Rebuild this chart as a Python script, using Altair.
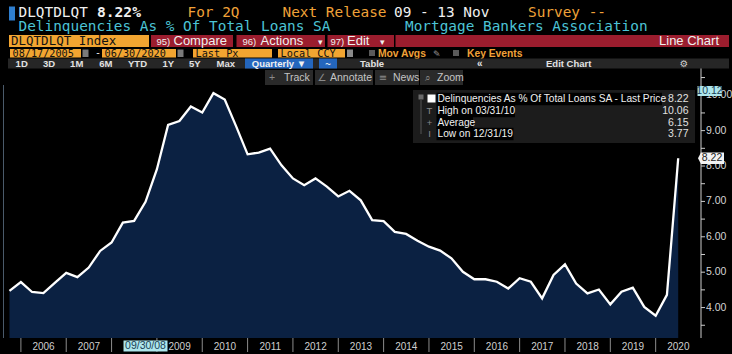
import altair as alt
import pandas as pd

# ---------------- data ----------------
quarter_ends = [
    "2005-09-30", "2005-12-31",
    "2006-03-31", "2006-06-30", "2006-09-30", "2006-12-31",
    "2007-03-31", "2007-06-30", "2007-09-30", "2007-12-31",
    "2008-03-31", "2008-06-30", "2008-09-30", "2008-12-31",
    "2009-03-31", "2009-06-30", "2009-09-30", "2009-12-31",
    "2010-03-31", "2010-06-30", "2010-09-30", "2010-12-31",
    "2011-03-31", "2011-06-30", "2011-09-30", "2011-12-31",
    "2012-03-31", "2012-06-30", "2012-09-30", "2012-12-31",
    "2013-03-31", "2013-06-30", "2013-09-30", "2013-12-31",
    "2014-03-31", "2014-06-30", "2014-09-30", "2014-12-31",
    "2015-03-31", "2015-06-30", "2015-09-30", "2015-12-31",
    "2016-03-31", "2016-06-30", "2016-09-30", "2016-12-31",
    "2017-03-31", "2017-06-30", "2017-09-30", "2017-12-31",
    "2018-03-31", "2018-06-30", "2018-09-30", "2018-12-31",
    "2019-03-31", "2019-06-30", "2019-09-30", "2019-12-31",
    "2020-03-31", "2020-06-30",
]
delinquency_pct = [
    4.47, 4.72,
    4.44, 4.41, 4.70, 4.98,
    4.86, 5.13, 5.60, 5.84,
    6.40, 6.45, 6.99, 7.91,
    9.16, 9.27, 9.68, 9.51,
    10.06, 9.88, 9.12, 8.33,
    8.38, 8.49, 8.02, 7.65,
    7.46, 7.65, 7.42, 7.14,
    7.30, 7.03, 6.47, 6.44,
    6.14, 6.08, 5.89, 5.72,
    5.61, 5.39, 5.01, 4.80,
    4.80, 4.73, 4.54, 4.83,
    4.73, 4.26, 4.92, 5.22,
    4.68, 4.40, 4.51, 4.09,
    4.45, 4.56, 4.02, 3.77,
    4.36, 8.22,
]
range_start = "2005-08-17"
range_end_year = 2021.0
year_labels = ["2006", "2007", "2008", "2009", "2010", "2011", "2012", "2013",
               "2014", "2015", "2016", "2017", "2018", "2019", "2020"]
year_starts = [2006, 2007, 2008, 2009, 2010, 2011, 2012, 2013,
               2014, 2015, 2016, 2017, 2018, 2019, 2020]
grid_years = [2006, 2008, 2010, 2012, 2014, 2016, 2018, 2020]
grid_values = [4, 5, 6, 7, 8, 9, 10]
y_labels = [4, 5, 6, 7, 8, 9, 10]
y_ticks = [3.5, 4, 4.5, 5, 5.5, 6, 6.5, 7, 7.5, 8, 8.5, 9, 9.5, 10, 10.5]
y_min, y_max = 3.14, 10.77
last_price = 8.22
cursor_value = 10.12
cursor_date = "2008-09-30"
cursor_label = "09/30/08"
legend_labels = ["Delinquencies As % Of Total Loans SA - Last Price",
                 "High on 03/31/10", "Average", "Low on 12/31/19"]
legend_values = ["8.22", "10.06", "6.15", "3.77"]


def dec_year(s):
    t = pd.Timestamp(s)
    n = 366 if t.is_leap_year else 365
    return t.year + t.dayofyear / n


df = pd.DataFrame({"t": [dec_year(d) for d in quarter_ends], "v": delinquency_pct})
cursor_t = dec_year(cursor_date)

# ---------------- layout / style ----------------
OX, OY = 4, 68          # plot origin on the page
W, H = 697, 270
MONO = "DejaVu Sans Mono"
SANS = "Liberation Sans"
WHITE = "#f0f0f0"
ORANGE = "#f0a238"
AMBER = "#f2a531"
CYAN = "#4cc4d6"
RED = "#9b1d2e"
BLUE = "#2466bd"
NAVY = "#0b2142"
GRID = "#a8a8a8"
AXIS = "#cdcdcd"
DARK = "#111111"

xs = alt.Scale(domain=[dec_year(range_start), range_end_year], nice=False, zero=False)
ys = alt.Scale(domain=[y_min, y_max], nice=False, zero=False)

ONE = pd.DataFrame({"k": [0]})


def box(x0, y0, x1, y1, color):
    return alt.Chart(ONE).mark_rect(color=color).encode(
        x=alt.value(x0 - OX), x2=alt.value(x1 - OX),
        y=alt.value(y0 - OY), y2=alt.value(y1 - OY))


def label(x, y, s, color, size=11, font=SANS, weight="normal", align="left"):
    return alt.Chart(ONE).mark_text(
        text=s, color=color, fontSize=size, font=font, fontWeight=weight,
        align=align, baseline="middle").encode(
        x=alt.value(x - OX), y=alt.value(y - OY))


layers = []

# ---------------- plot ----------------
# the area layer carries the dotted grid of both axes
area = alt.Chart(df).mark_area(color=NAVY).encode(
    x=alt.X("t:Q", scale=xs, axis=alt.Axis(
        values=grid_years, labels=False, ticks=False, domain=True,
        domainColor="#b8b8b8", grid=True, gridColor=GRID, gridDash=[1.5, 2],
        gridWidth=1, gridOpacity=1, title=None, zindex=1)),
    y=alt.Y("v:Q", scale=ys, axis=alt.Axis(
        orient="right", values=grid_values, labels=False, ticks=False,
        domain=False, grid=True, gridColor=GRID, gridDash=[1.5, 2], gridWidth=1,
        gridOpacity=1, title=None, zindex=1)),
    y2=alt.datum(y_min),
)
layers.append(area)

# thin frame line on the left edge
layers.append(alt.Chart(ONE).mark_rule(color="#4a5a6a", strokeWidth=1).encode(
    x=alt.value(-0.5), y=alt.value(17), y2=alt.value(H)))

line = alt.Chart(df).mark_line(color="white", strokeWidth=2.3).encode(
    x=alt.X("t:Q", scale=xs, axis=None),
    y=alt.Y("v:Q", scale=ys, axis=None))
layers.append(line)

# year dividers below the time axis
layers.append(alt.Chart(pd.DataFrame({"yd": year_starts})).mark_rule(
    color="#8c8c8c", strokeWidth=1).encode(
    x=alt.X("yd:Q", scale=xs, axis=None), y=alt.value(H), y2=alt.value(H + 14)))

# right-hand value axis
layers.append(alt.Chart(ONE).mark_rule(color=AXIS, strokeWidth=1).encode(
    x=alt.value(W), y=alt.value(0), y2=alt.value(H)))
layers.append(alt.Chart(pd.DataFrame({"yt": y_ticks})).mark_rule(
    color=AXIS, strokeWidth=1).encode(
    y=alt.Y("yt:Q", scale=ys, axis=None), x=alt.value(W), x2=alt.value(W + 4)))
layers.append(alt.Chart(pd.DataFrame({"yl": y_labels})).mark_text(
    color="#d4d4d4", font=SANS, fontSize=10.5, align="left", baseline="middle").encode(
    y=alt.Y("yl:Q", scale=ys, axis=None), x=alt.value(W + 5),
    text=alt.Text("yl:Q", format=".2f")))

# year labels centred in each year (the one under the cursor tag is hidden)
years = alt.Chart(pd.DataFrame({"yr": year_labels, "ys": year_starts})).transform_calculate(
    mid="datum.ys + 0.5").transform_filter(
    f"abs(datum.mid - {cursor_t}) > 0.4").mark_text(
    color="#cfcfcf", font=SANS, fontSize=10, baseline="middle").encode(
    x=alt.X("mid:Q", scale=xs, axis=None), y=alt.value(H + 9), text="yr:N")
layers.append(years)

# cursor date tag on the x axis
layers.append(alt.Chart(pd.DataFrame({"d": [cursor_t]})).mark_point(
    shape="M-2.2,-0.55H2.2V0.55H-2.2Z", size=400, filled=True, color="#aee6ec",
    opacity=1, strokeWidth=0).encode(
    x=alt.X("d:Q", scale=xs, axis=None), y=alt.value(346 - OY)))
layers.append(alt.Chart(pd.DataFrame({"d": [cursor_t]})).mark_text(
    text=cursor_label, color="#1b3f55", font=SANS, fontSize=10.5, baseline="middle").encode(
    x=alt.X("d:Q", scale=xs, axis=None), y=alt.value(346 - OY)))

# value tags on the y axis
layers.append(alt.Chart(pd.DataFrame({"v": [cursor_value]})).mark_point(
    shape="M-1.2,-0.5H1.2V0.5H-1.2Z", size=400, filled=True, color="#aee6ec",
    opacity=1, strokeWidth=0).encode(
    x=alt.value(709.5 - OX), y=alt.Y("v:Q", scale=ys, axis=None)))
layers.append(alt.Chart(pd.DataFrame({"v": [cursor_value]})).mark_text(
    text=f"{cursor_value:.2f}", color="#1b3f55", font=SANS, fontSize=10.5,
    baseline="middle", align="center").encode(
    x=alt.value(709.5 - OX), y=alt.Y("v:Q", scale=ys, axis=None)))
layers.append(alt.Chart(pd.DataFrame({"v": [last_price]})).mark_point(
    shape="M-1.4,0L-1.1,-0.58H1.2V0.58H-1.1Z", size=400, filled=True, color="#f2f2f2",
    opacity=1, strokeWidth=0).encode(
    x=alt.value(712 - OX), y=alt.Y("v:Q", scale=ys, axis=None)))
layers.append(alt.Chart(pd.DataFrame({"v": [last_price]})).mark_text(
    text=f"{last_price:.2f}", color="#222222", font=SANS, fontSize=10.5,
    baseline="middle", align="center").encode(
    x=alt.value(712 - OX), y=alt.Y("v:Q", scale=ys, axis=None)))

# ---------------- legend box ----------------
layers.append(box(413, 90, 695, 143, "#1c1c1c"))
layers.append(box(418.5, 94.5, 423.5, 99.5, "#6a6a6a"))
layers.append(box(420.5, 100, 421.5, 134, "#555555"))
layers.append(box(427.5, 94.5, 435.5, 102.5, "#ffffff"))
leg_y = [99, 111, 122.7, 134]
leg_w = [662, 515, 473, 513.5]
for yy, xw in zip(leg_y, leg_w):
    layers.append(box(436.5, yy - 6.2, xw, yy + 6.2, "#000000"))
for yy, sym in zip(leg_y[1:], ["T", "+", "I"]):
    layers.append(label(429.5, yy, sym, "#8a8a8a", 9.5, SANS, align="center"))
for yy, s in zip(leg_y, legend_labels):
    layers.append(label(437.5, yy, s, WHITE, 10.2, SANS))
for yy, s in zip(leg_y, legend_values):
    layers.append(label(688.5, yy, s, "#e0e0e0", 10.5, SANS, align="right"))

# ---------------- header chrome ----------------
# row 1
layers.append(box(9, 6.5, 15, 20.5, "#2f7fd0"))
layers.append(label(18.5, 12.8, "DLQTDLQT", WHITE, 14.4, MONO))
layers.append(label(97, 12.8, "8.22%", WHITE, 14.6, MONO, "bold"))
layers.append(label(187.5, 12.8, "For 2Q", ORANGE, 14.4, MONO))
layers.append(label(282.5, 12.8, "Next Release", ORANGE, 14.4, MONO))
layers.append(label(394, 12.8, "09 - 13 Nov", WHITE, 14.4, MONO))
layers.append(label(528, 12.8, "Survey --", ORANGE, 14.4, MONO))
# row 2
layers.append(label(18.5, 27.3, "Delinquencies As % Of Total Loans SA", CYAN, 14.4, MONO))
layers.append(label(405, 27.3, "Mortgage Bankers Association", CYAN, 14.4, MONO))
# row 3
layers.append(box(9, 35, 149, 47, AMBER))
layers.append(label(11, 41, "DLQTDLQT Index", DARK, 12.5, MONO))
layers.append(box(151, 35, 233, 47, RED))
layers.append(label(156.5, 41.5, "95)", WHITE, 9.5, SANS))
layers.append(label(173.5, 41.2, "Compare", WHITE, 13, SANS))
layers.append(box(236.5, 35, 325, 47, RED))
layers.append(label(242.5, 41.5, "96)", WHITE, 9.5, SANS))
layers.append(label(260.5, 41.2, "Actions", WHITE, 13, SANS))
layers.append(label(318, 41.5, "▾", WHITE, 9, "DejaVu Sans"))
layers.append(box(327.5, 35, 394, 47, RED))
layers.append(label(330.5, 41.5, "97)", WHITE, 9.5, SANS))
layers.append(label(347, 41.2, "Edit", WHITE, 13, SANS))
layers.append(label(380, 41.5, "▾", WHITE, 9, "DejaVu Sans"))
layers.append(box(395.5, 35, 729, 47, RED))
layers.append(label(719, 41.2, "Line Chart", WHITE, 13, SANS, align="right"))
# row 4
for x0, x1, s in [(10, 81, "08/17/2005"), (102, 176, "06/30/2020"),
                  (193, 272, "Last Px"), (278, 345, "Local CCY")]:
    layers.append(box(x0, 49, x1, 57.5, AMBER))
    layers.append(label(x0 + 2.5, 53.6, s, DARK, 10.2, MONO))
layers.append(box(82.5, 49.5, 88.5, 57, "#7a7a7a"))
layers.append(box(177.5, 49.5, 183.5, 57, "#7a7a7a"))
layers.append(label(95, 53.3, "-", WHITE, 10, MONO))
layers.append(box(347, 49.5, 353, 57, "#8a8a8a"))
layers.append(box(369, 50, 375, 56, "#5a5a5a"))
layers.append(label(378, 53.5, "Mov Avgs", ORANGE, 10.3, SANS, "bold"))
layers.append(label(433, 53.5, "✎", "#9a9a9a", 9, "DejaVu Sans"))
layers.append(box(453, 50, 459, 56, "#5a5a5a"))
layers.append(label(467, 53.5, "Key Events", ORANGE, 10.3, SANS, "bold"))
# row 5
layers.append(box(8, 58.5, 729, 68.5, "#262626"))
for cx, s in [(21.7, "1D"), (49, "3D"), (76.7, "1M"), (105.8, "6M"), (137.5, "YTD"),
              (168.3, "1Y"), (194.7, "5Y"), (225.8, "Max")]:
    layers.append(label(cx, 63.8, s, "#e2e2e2", 9.5, SANS, "bold", "center"))
layers.append(box(245, 58.5, 313, 68.5, BLUE))
layers.append(label(279, 63.8, "Quarterly ▼", WHITE, 9.5, SANS, "bold", "center"))
layers.append(box(319, 58.5, 337, 68.5, BLUE))
layers.append(label(328, 63.8, "~", WHITE, 9.5, SANS, "bold", "center"))
layers.append(label(360, 63.8, "Table", "#e2e2e2", 9.5, SANS, "bold"))
layers.append(label(477, 63.6, "«", "#e2e2e2", 10, SANS, "bold"))
layers.append(label(546, 63.8, "Edit Chart", "#e2e2e2", 9.5, SANS, "bold"))
layers.append(label(684, 63.8, "⚙", "#d0d0d0", 9.5, "DejaVu Sans", align="center"))
# row 6
for x0, x1 in [(265, 313), (315, 373), (375, 419), (420, 463)]:
    layers.append(box(x0, 70, x1, 85, "#2a2a2a"))
layers.append(label(272, 77.5, "+", "#8a8a8a", 10.5, SANS, align="center"))
layers.append(label(284, 77.5, "Track", "#c4c4c4", 10.5, SANS))
layers.append(label(322, 77.5, "∠", "#8a8a8a", 10, "DejaVu Sans", align="center"))
layers.append(label(330, 77.5, "Annotate", "#c4c4c4", 10.5, SANS))
layers.append(label(383, 77.5, "≡", "#8a8a8a", 10, "DejaVu Sans", align="center"))
layers.append(label(393, 77.5, "News", "#c4c4c4", 10.5, SANS))
layers.append(label(428, 77.5, "⌕", "#8a8a8a", 10, "DejaVu Sans", align="center"))
layers.append(label(437, 77.5, "Zoom", "#c4c4c4", 10.5, SANS))

chart = alt.layer(*layers).properties(
    width=W, height=H,
    padding={"left": OX, "top": OY, "right": 732 - OX - W, "bottom": 354 - OY - H},
    autosize=alt.AutoSizeParams(type="none"),
    background="black",
).configure_view(stroke=None)

chart.save("out.html", embed_options={"renderer": "svg", "actions": False})
